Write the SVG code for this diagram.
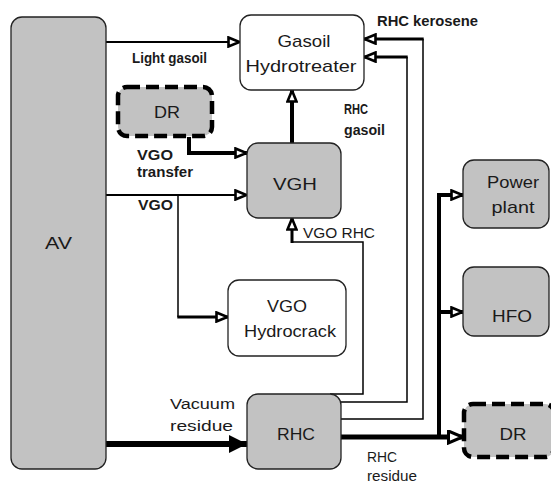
<svg xmlns="http://www.w3.org/2000/svg" width="551" height="484" viewBox="0 0 551 484">
<defs>
<style>
.box{stroke:#222;stroke-width:1.3}
.g{fill:#c2c2c2}
.w{fill:#fff}
.dash{stroke:#000;stroke-width:4.5;stroke-dasharray:13 6}
.bt{font-family:"Liberation Sans",Arial,sans-serif;font-size:17px;fill:#1a1a1a;text-anchor:middle}
.lb{font-family:"Liberation Sans",Arial,sans-serif;font-size:14px;fill:#1a1a1a}
.bold{font-weight:bold}
.c{fill:none;stroke:#000;stroke-linejoin:miter}
</style>
<marker id="ah" viewBox="0 0 14 12" refX="13" refY="6" markerWidth="14" markerHeight="12" markerUnits="userSpaceOnUse" orient="auto">
<path d="M1.5,1.5 L12.5,6 L1.5,10.5 Z" fill="#fff" stroke="#000" stroke-width="2.6"/>
</marker>
<marker id="ahb" viewBox="0 0 20 20" refX="19" refY="10" markerWidth="20" markerHeight="20" markerUnits="userSpaceOnUse" orient="auto">
<path d="M1,1 L19,10 L1,19 Z" fill="#000"/>
</marker>
<marker id="ahm" viewBox="0 0 17 15" refX="16" refY="7.5" markerWidth="17" markerHeight="15" markerUnits="userSpaceOnUse" orient="auto">
<path d="M1.5,1.5 L15.5,7.5 L1.5,13.5 Z" fill="#fff" stroke="#000" stroke-width="3"/>
</marker>
</defs>
<rect width="551" height="484" fill="#fff"/>

<g id="connectors">
<path class="c" stroke-width="2" d="M106,42 H240" marker-end="url(#ah)"/>
<path class="c" stroke-width="4" d="M189,137 V153 H247" marker-end="url(#ah)"/>
<path class="c" stroke-width="2" d="M106,195 H247" marker-end="url(#ah)"/>
<path class="c" stroke-width="1.5" d="M178,195 V317"/>
<path class="c" stroke-width="3" d="M177.3,317 H228" marker-end="url(#ah)"/>
<path class="c" stroke-width="6" d="M106,444 H247" marker-end="url(#ahb)"/>
<path class="c" stroke-width="4" d="M292,143 V90" marker-end="url(#ah)"/>
<path class="c" stroke-width="1.5" d="M330,394 H363 V242 H292"/>
<path class="c" stroke-width="3" d="M292,243 V218" marker-end="url(#ah)"/>
<path class="c" stroke-width="1.5" d="M341,402 H407 V57"/>
<path class="c" stroke-width="3" d="M407.7,57 H364" marker-end="url(#ah)"/>
<path class="c" stroke-width="1.5" d="M341,419 H423 V39"/>
<path class="c" stroke-width="3" d="M423.7,39 H364" marker-end="url(#ah)"/>
<path class="c" stroke-width="5" d="M341,437 H463" marker-end="url(#ahm)"/>
<path class="c" stroke-width="4" d="M439,437 V195 H463" marker-end="url(#ah)"/>
<path class="c" stroke-width="4" d="M439,312 H463" marker-end="url(#ah)"/>
</g>

<g id="labels">
<text class="lb bold" x="132" y="63" textLength="75" lengthAdjust="spacingAndGlyphs">Light gasoil</text>
<text class="lb bold" x="377" y="26" textLength="101" lengthAdjust="spacingAndGlyphs" font-size="15">RHC kerosene</text>
<text class="lb bold" x="344" y="114" textLength="24" lengthAdjust="spacingAndGlyphs">RHC</text>
<text class="lb bold" x="344" y="135" textLength="41" lengthAdjust="spacingAndGlyphs">gasoil</text>
<text class="lb bold" x="137" y="160" textLength="36" lengthAdjust="spacingAndGlyphs">VGO</text>
<text class="lb bold" x="137" y="177" textLength="56" lengthAdjust="spacingAndGlyphs">transfer</text>
<text class="lb bold" x="138" y="210" textLength="35" lengthAdjust="spacingAndGlyphs">VGO</text>
<text class="lb" x="303" y="238" textLength="72" lengthAdjust="spacingAndGlyphs" font-size="15">VGO RHC</text>
<text class="lb" x="170" y="409" textLength="65" lengthAdjust="spacingAndGlyphs" font-size="15">Vacuum</text>
<text class="lb" x="170" y="431" textLength="63" lengthAdjust="spacingAndGlyphs" font-size="15">residue</text>
<text class="lb" x="367" y="462" textLength="30" lengthAdjust="spacingAndGlyphs">RHC</text>
<text class="lb" x="367" y="481" textLength="50" lengthAdjust="spacingAndGlyphs">residue</text>
</g>

<g id="AV">
<rect class="box g" x="11" y="17" width="95" height="452" rx="11"/>
<text class="bt" x="58.5" y="249" textLength="27" lengthAdjust="spacingAndGlyphs">AV</text>
</g>
<g id="GasoilHydrotreater">
<rect class="box w" x="240" y="15" width="124" height="75" rx="11"/>
<text class="bt" x="304" y="47" textLength="53" lengthAdjust="spacingAndGlyphs">Gasoil</text>
<text class="bt" x="301" y="72" textLength="111" lengthAdjust="spacingAndGlyphs">Hydrotreater</text>
</g>
<g id="DR1">
<rect class="g dash" x="118" y="87" width="94" height="49" rx="9"/>
<text class="bt" x="167" y="118" textLength="26" lengthAdjust="spacingAndGlyphs">DR</text>
</g>
<g id="VGH">
<rect class="box g" x="247" y="143" width="94" height="75" rx="11"/>
<text class="bt" x="295" y="190" textLength="44" lengthAdjust="spacingAndGlyphs">VGH</text>
</g>
<g id="PowerPlant">
<rect class="box g" x="463" y="160" width="86" height="68" rx="11"/>
<text class="bt" x="513" y="188" textLength="52" lengthAdjust="spacingAndGlyphs">Power</text>
<text class="bt" x="513" y="213" textLength="43" lengthAdjust="spacingAndGlyphs">plant</text>
</g>
<g id="HFO">
<rect class="box g" x="463" y="267" width="86" height="69" rx="11"/>
<text class="bt" x="512" y="322" textLength="40" lengthAdjust="spacingAndGlyphs">HFO</text>
</g>
<g id="VGOHydrocrack">
<rect class="box w" x="228" y="280" width="118" height="76" rx="11"/>
<text class="bt" x="287" y="312" textLength="40" lengthAdjust="spacingAndGlyphs">VGO</text>
<text class="bt" x="290" y="337" textLength="92" lengthAdjust="spacingAndGlyphs">Hydrocrack</text>
</g>
<g id="RHC">
<rect class="box g" x="247" y="394" width="94" height="75" rx="11"/>
<text class="bt" x="296" y="440" textLength="38" lengthAdjust="spacingAndGlyphs">RHC</text>
</g>
<g id="DR2">
<rect class="g dash" x="464" y="404" width="90" height="53" rx="9"/>
<text class="bt" x="513" y="440" textLength="27" lengthAdjust="spacingAndGlyphs">DR</text>
</g>
</svg>
